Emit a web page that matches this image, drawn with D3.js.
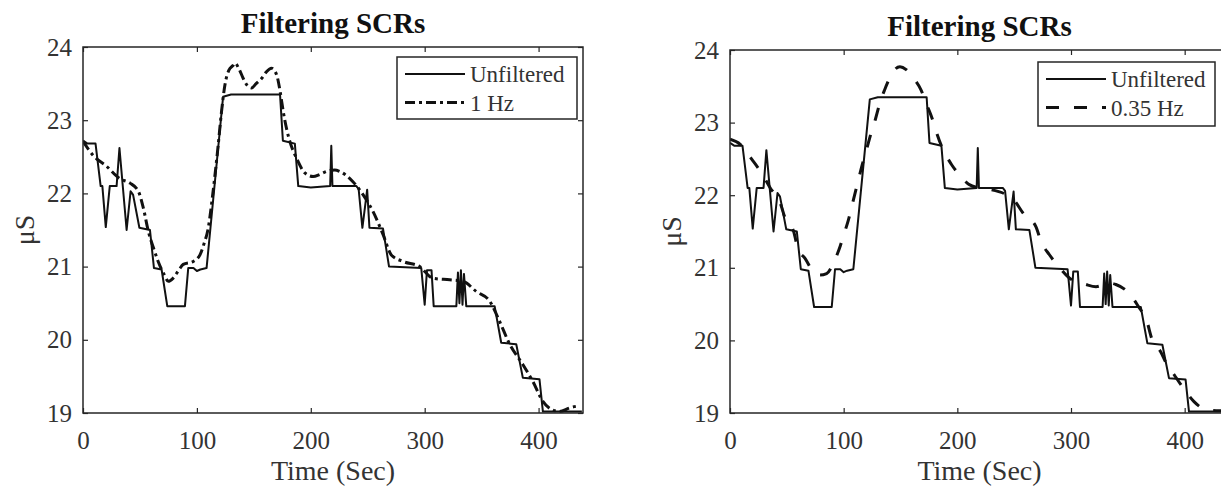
<!DOCTYPE html>
<meta charset="utf-8">
<script src="https://d3js.org/d3.v7.min.js"></script>
<style>
  body { margin: 0; background: #fff; }
  text { font-family: "Liberation Serif", "Times New Roman", serif; }
</style>
<div id="chart"></div>
<script>

// unfiltered skin conductance (same trace in both panels)
const rawTime  = [0, 2, 4, 11, 15.5, 17, 20, 23.5, 29.5, 32, 38.3, 41.8, 44, 49.5, 58.8, 62.3, 69, 74, 89.5, 92.4,
                  97, 100, 103, 108.5, 123, 130, 173, 175.5, 186, 189, 200, 217, 218, 219, 240, 242, 245.3, 249.5,
                  251.5, 263.4, 268.7, 297, 300, 302, 306, 307.9, 327.8, 329.2, 330.5, 331.8, 333.2, 334.5, 336.5,
                  361.4, 367.2, 380.4, 386.2, 400.8, 403.8, 438];
const rawValue = [22.72, 22.7, 22.68, 22.68, 22.1, 22.1, 21.54, 22.1, 22.1, 22.62, 21.5, 22.03, 21.98, 21.53, 21.5, 20.98,
                  20.96, 20.46, 20.46, 20.98, 20.98, 20.94, 20.96, 20.98, 23.32, 23.35, 23.35, 22.72, 22.68, 22.1, 22.08,
                  22.1, 22.65, 22.1, 22.1, 22.06, 21.53, 22.05, 21.53, 21.52, 21.0, 20.98, 20.48, 20.95, 20.95, 20.46,
                  20.46, 20.92, 20.5, 20.95, 20.48, 20.9, 20.46, 20.46, 19.96, 19.94, 19.48, 19.46, 19.02, 19.02];

// 1 Hz low-pass
const hz1Time  = [0, 10, 20, 32.5, 41.3, 48.6, 53, 57.4, 62, 66, 71, 74.9, 79, 84, 88, 96.8, 102.7, 106, 110, 114, 118.7,
                  121.5, 124.6, 128, 131.9, 133.4, 137, 140.7, 144, 148, 152, 156.8, 161, 165.5, 170, 173, 175.8, 178.5,
                  181.6, 187.5, 194.8, 202, 208, 213.8, 221, 225.4, 237, 246, 254.7, 263.4, 270.7, 281, 295.6, 307.3,
                  322, 333.6, 345.3, 357, 365.8, 374.6, 386.3, 395, 403.8, 411.1, 418.4, 427.2, 436];
const hz1Value = [22.71, 22.5, 22.38, 22.2, 22.14, 22.03, 21.8, 21.48, 21.25, 21.07, 20.9, 20.8, 20.84, 20.95, 21.03, 21.07,
                  21.16, 21.3, 21.53, 22.0, 22.66, 23.1, 23.48, 23.68, 23.75, 23.78, 23.7, 23.57, 23.48, 23.44, 23.5,
                  23.57, 23.66, 23.71, 23.62, 23.4, 23.12, 22.9, 22.71, 22.48, 22.28, 22.23, 22.26, 22.3, 22.32, 22.3,
                  22.16, 21.98, 21.75, 21.44, 21.16, 21.07, 21.0, 20.84, 20.82, 20.8, 20.66, 20.53, 20.25, 19.94, 19.66,
                  19.43, 19.16, 19.05, 19.02, 19.07, 19.1];

// 0.35 Hz low-pass
const hz035Time  = [0, 9, 19.4, 28, 35.4, 44, 48.6, 56, 60, 66, 73, 79, 85, 92, 97, 100, 104, 108, 112, 116, 120, 124,
                    128, 132, 136, 141, 145, 149.5, 155, 161, 168, 173, 178, 182, 186, 190, 195, 203, 210, 219, 228,
                    241.5, 248.8, 259, 269, 273.7, 281, 290, 298.5, 313.2, 322, 334, 339.5, 351, 360, 366, 371.6, 379,
                    383.3, 390.6, 400.8, 408, 418.4, 430, 438];
const hz035Value = [22.77, 22.7, 22.49, 22.3, 22.1, 21.9, 21.68, 21.5, 21.25, 21.13, 20.95, 20.9, 20.92, 21.1, 21.3, 21.45,
                    21.65, 21.9, 22.15, 22.4, 22.62, 22.85, 23.05, 23.28, 23.45, 23.63, 23.73, 23.77, 23.73, 23.62, 23.45,
                    23.25, 23.05, 22.85, 22.68, 22.55, 22.42, 22.26, 22.15, 22.1, 22.08, 22.02, 21.95, 21.73, 21.57,
                    21.36, 21.18, 21.0, 20.86, 20.77, 20.74, 20.79, 20.77, 20.65, 20.45, 20.3, 20.0, 19.84, 19.7, 19.53,
                    19.3, 19.16, 19.05, 19.03, 19.03];

const xTicks = [0, 100, 200, 300, 400];
const yTicks = [19, 20, 21, 22, 23, 24];
const legendLabels = ["Unfiltered", "1 Hz", "0.35 Hz"];

const zip = (ts, vs) => ts.map((t, i) => ({t: t, v: vs[i]}));
const raw = zip(rawTime, rawValue);

const svg = d3.select("#chart").append("svg")
  .attr("width", 1221)
  .attr("height", 488);

function panel(cfg) {
  const x = d3.scaleLinear().domain([0, 439]).range([cfg.left, cfg.left + cfg.width]);
  const y = d3.scaleLinear().domain([19, 24]).range([cfg.bottom, cfg.top]);
  const g = svg.append("g");

  const clipId = "clip" + cfg.id;
  g.append("clipPath").attr("id", clipId)
    .append("rect")
      .attr("x", cfg.left).attr("y", cfg.top)
      .attr("width", cfg.width).attr("height", cfg.bottom - cfg.top);

  const line = d3.line().x(d => x(d.t)).y(d => y(d.v));
  const smooth = d3.line().x(d => x(d.t)).y(d => y(d.v)).curve(d3.curveMonotoneX);

  g.append("path")
    .datum(raw)
    .attr("clip-path", `url(#${clipId})`)
    .attr("fill", "none")
    .attr("stroke", "#111")
    .attr("stroke-width", 2)
    .attr("stroke-linejoin", "round")
    .attr("d", line);

  g.append("path")
    .datum(cfg.filtered)
    .attr("clip-path", `url(#${clipId})`)
    .attr("fill", "none")
    .attr("stroke", "#111")
    .attr("stroke-width", 3)
    .attr("stroke-dasharray", cfg.dash)
    .attr("d", smooth);

  // axes, ticks pointing inward
  const tickStyle = sel => {
    sel.select(".domain").remove();
    sel.selectAll(".tick line").attr("stroke", "#262626").attr("stroke-width", 1.2);
    sel.selectAll("text")
      .attr("fill", "#333")
      .style("font-size", "25px")
      .style("font-family", "Liberation Serif, serif");
  };
  g.append("g").attr("transform", `translate(0,${cfg.bottom})`)
    .call(d3.axisBottom(x).tickValues(xTicks).tickSize(-5).tickPadding(18).tickFormat(d3.format("d")))
    .call(tickStyle);
  g.append("g").attr("transform", `translate(0,${cfg.top})`)
    .call(d3.axisTop(x).tickValues(xTicks).tickSize(-5).tickFormat(""))
    .call(tickStyle);
  g.append("g").attr("transform", `translate(${cfg.left},0)`)
    .call(d3.axisLeft(y).tickValues(yTicks).tickSize(-5).tickPadding(11).tickFormat(d3.format("d")))
    .call(tickStyle);
  g.append("g").attr("transform", `translate(${cfg.left + cfg.width},0)`)
    .call(d3.axisRight(y).tickValues(yTicks).tickSize(-5).tickFormat(""))
    .call(tickStyle);

  g.append("rect")
    .attr("x", cfg.left).attr("y", cfg.top)
    .attr("width", cfg.width).attr("height", cfg.bottom - cfg.top)
    .attr("fill", "none")
    .attr("stroke", "#262626")
    .attr("stroke-width", 1.5);

  // title and axis labels
  g.append("text")
    .attr("x", cfg.left + cfg.width / 2).attr("y", cfg.top - 14)
    .attr("text-anchor", "middle")
    .style("font-size", "29px").style("font-weight", "bold")
    .attr("fill", "#111")
    .text("Filtering SCRs");
  g.append("text")
    .attr("x", cfg.left + cfg.width / 2).attr("y", 480)
    .attr("text-anchor", "middle")
    .style("font-size", "28px")
    .attr("fill", "#333")
    .text("Time (Sec)");
  g.append("text")
    .attr("transform", `translate(${cfg.left - 49},${(cfg.top + cfg.bottom) / 2}) rotate(-90)`)
    .attr("text-anchor", "middle")
    .style("font-size", "28px")
    .attr("fill", "#333")
    .text("\u03bcS");

  // legend
  const lg = cfg.legend;
  g.append("rect")
    .attr("x", lg.x).attr("y", lg.y).attr("width", lg.w).attr("height", lg.h)
    .attr("fill", "#fff").attr("stroke", "#262626").attr("stroke-width", 1.5);
  const rows = [
    {label: legendLabels[0], dash: null, width: 2},
    {label: cfg.label, dash: cfg.dash, width: 3}
  ];
  rows.forEach((r, i) => {
    const cy = lg.y + 17 + i * 28.5;
    g.append("line")
      .attr("x1", lg.x + 8).attr("x2", lg.x + 68)
      .attr("y1", cy).attr("y2", cy)
      .attr("stroke", "#111").attr("stroke-width", r.width)
      .attr("stroke-dasharray", r.dash);
    g.append("text")
      .attr("x", lg.x + lg.textX).attr("y", cy + 8)
      .style("font-size", "23px")
      .attr("fill", "#333")
      .text(r.label);
  });
}

panel({
  id: 1, left: 83, width: 500, top: 47, bottom: 413,
  filtered: zip(hz1Time, hz1Value), label: legendLabels[1], dash: "10,4,3,4",
  legend: {x: 397, y: 57, w: 180, h: 62, textX: 73}
});
panel({
  id: 2, left: 730, width: 499, top: 50, bottom: 413,
  filtered: zip(hz035Time, hz035Value), label: legendLabels[2], dash: "13,15",
  legend: {x: 1038, y: 62, w: 177, h: 64, textX: 73}
});

</script>
